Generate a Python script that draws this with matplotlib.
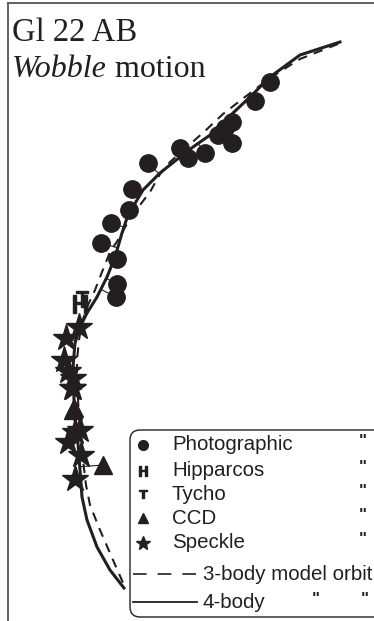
import numpy as np
import matplotlib
matplotlib.use("Agg")
import matplotlib.pyplot as plt
from matplotlib.lines import Line2D
from matplotlib.patches import FancyBboxPatch

# ---- data (plane coordinates in image units) ----
photo_x = [270, 255, 232, 225, 218, 232, 205, 188, 180, 148, 132, 129, 111, 101, 117, 117, 116]
photo_y = [82, 101, 122, 128, 135, 143, 153, 158, 148, 163, 189, 210, 223, 243, 259, 284, 297]

hip_x = [80]
hip_y = [304]
tycho_x = [82]
tycho_y = [299]

ccd_x = [74, 73, 103]
ccd_y = [408, 410, 465]

speckle_x = [79, 66, 64, 68, 73, 72, 73, 75, 80, 68, 81, 75]
speckle_y = [327, 338, 360, 371, 378, 388, 388, 432, 430, 442, 455, 479]

body4_x = [340, 300, 270, 250, 233, 213, 193, 180, 160, 143, 137, 128, 122, 115, 107, 97, 87, 80, 75, 73, 74, 75, 77, 80, 82, 87, 97, 110, 124]
body4_y = [42, 55, 77, 97, 113, 133, 147, 157, 173, 190, 200, 215, 233, 257, 277, 297, 313, 327, 343, 367, 400, 420, 430, 470, 497, 520, 547, 570, 588]

body3_x = [338, 300, 270, 245, 223, 205, 188, 170, 160, 150, 140, 128, 118, 110, 102, 95, 88, 82, 79, 77, 77, 78, 80, 83, 86, 90, 100, 113, 124]
body3_y = [44, 59, 78, 97, 114, 131, 146, 162, 174, 192, 205, 222, 240, 252, 272, 290, 305, 322, 340, 360, 380, 400, 430, 460, 485, 505, 530, 560, 585]

legend_labels = ["Photographic", "Hipparcos", "Tycho", "CCD", "Speckle"]
legend_lines = ["3-body model orbit", "4-body"]

INK = "#231f20"

W, H = 374, 621
fig = plt.figure(figsize=(W / 100, H / 100), dpi=100)
ax = fig.add_axes([0, 0, 1, 1])
ax.set_xlim(0, W)
ax.set_ylim(H, 0)
ax.axis("off")

# frame (top and left only)
fig.add_artist(Line2D([8 / W, 8 / W], [0, 1 - 3 / H], color="#555555", lw=1.3))
fig.add_artist(Line2D([8 / W, 1], [1 - 3 / H, 1 - 3 / H], color="#555555", lw=1.3))

# curves
ax.plot(body3_x, body3_y, color=INK, lw=1.5, ls=(0, (4.5, 3.5)), zorder=2)
ax.plot(body4_x, body4_y, color=INK, lw=2.2, zorder=3, solid_joinstyle="round")

# residual connectors to 4-body curve
bx = np.asarray(body4_x, float)
by = np.asarray(body4_y, float)
seg = np.hypot(np.diff(bx), np.diff(by))
s = np.concatenate([[0], np.cumsum(seg)])
ss = np.linspace(0, s[-1], 2000)
cx = np.interp(ss, s, bx)
cy = np.interp(ss, s, by)

def connectors(xs, ys):
    for x, y in zip(xs, ys):
        d = np.hypot(cx - x, cy - y)
        i = np.argmin(d)
        ax.plot([x, cx[i]], [y, cy[i]], color=INK, lw=0.8, zorder=2)

for xs, ys in [(photo_x, photo_y), (ccd_x, ccd_y), (speckle_x, speckle_y)]:
    connectors(xs, ys)

# data points
ax.plot(photo_x, photo_y, ls="none", marker="o", ms=12.5, color=INK, mec=INK, zorder=4)
ax.plot(speckle_x, speckle_y, ls="none", marker="*", ms=20, color=INK, mec=INK, zorder=4)
ax.plot(ccd_x, ccd_y, ls="none", marker="^", ms=13, color=INK, mec=INK, zorder=4)
ax.plot(hip_x, hip_y, ls="none", marker="$\\mathsf{H}$", ms=13, color=INK, zorder=5)
ax.plot(tycho_x, tycho_y, ls="none", marker="$\\mathsf{T}$", ms=11, color=INK, zorder=5)

# title
ax.text(12, 41, "Gl 22 AB", fontsize=23.5, family="Liberation Serif", color=INK, va="baseline")
t1 = ax.text(12, 77, "Wobble", fontsize=23, family="Liberation Serif", style="italic",
             color=INK, va="baseline")
fig.canvas.draw()
r = fig.canvas.get_renderer()
bb = t1.get_window_extent(r)
x_end = ax.transData.inverted().transform((bb.x1, bb.y0))[0]
ax.text(x_end, 77, " motion", fontsize=23, family="Liberation Serif", color=INK, va="baseline")

# legend box
box = FancyBboxPatch((130, 430), 260, 187, boxstyle="round,pad=0,rounding_size=10",
                     fc="white", ec=INK, lw=1.0, zorder=6)
ax.add_patch(box)

rows = [445, 471, 494, 518, 543]
mk = ["o", "$\\mathsf{H}$", "$\\mathsf{T}$", "^", "*"]
msz = [7, 7, 6, 7, 10]
for lab, yy, m, sz in zip(legend_labels, rows, mk, msz):
    ax.plot([143], [yy], ls="none", marker=m, ms=sz, color=INK, mec=INK, zorder=7)
    ax.text(172, yy, lab, fontsize=14.8, family="Liberation Sans", color=INK, va="center", zorder=7)
    ax.text(363, yy - 3, '"', fontsize=12, family="Liberation Sans", weight="bold", color=INK,
            va="center", ha="center", zorder=7)

ax.plot([133, 197], [574, 574], color=INK, lw=1.2, ls=(0, (8.2, 6.6)), zorder=7)
ax.text(203, 574, legend_lines[0], fontsize=14.8, family="Liberation Sans", color=INK, va="center", zorder=7)
ax.plot([133, 197], [602, 602], color=INK, lw=1.3, zorder=7)
ax.text(203, 602, legend_lines[1], fontsize=14.8, family="Liberation Sans", color=INK, va="center", zorder=7)
ax.text(316, 599, '"', fontsize=12, family="Liberation Sans", weight="bold", color=INK, va="center", ha="center", zorder=7)
ax.text(365, 599, '"', fontsize=12, family="Liberation Sans", weight="bold", color=INK, va="center", ha="center", zorder=7)

fig.savefig("out.png", dpi=100)
